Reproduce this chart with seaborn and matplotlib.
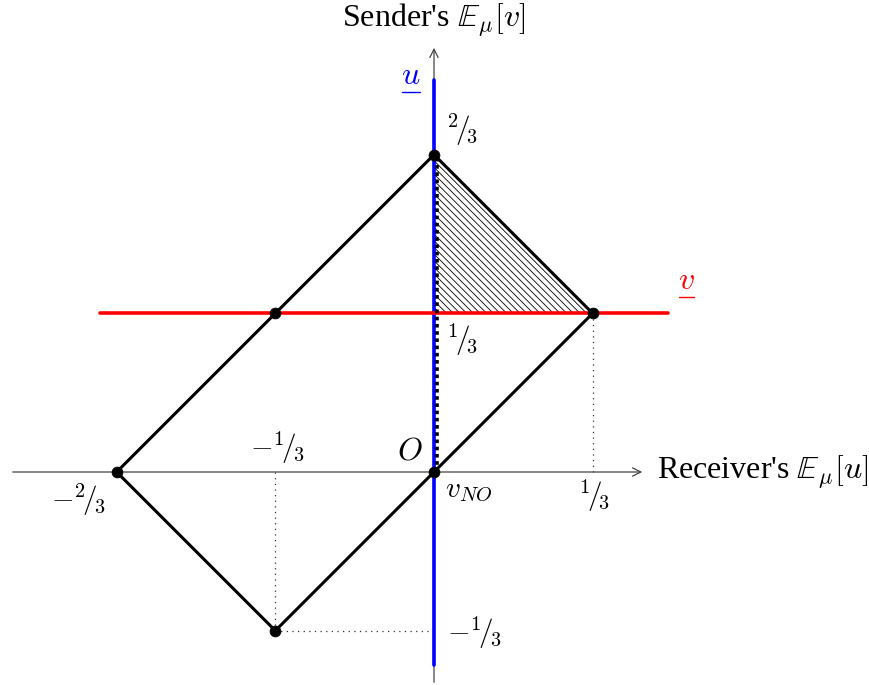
import numpy as np
import pandas as pd
import matplotlib
matplotlib.use("Agg")
import matplotlib.pyplot as plt
import matplotlib.transforms as mtransforms
import seaborn as sns

# ==========================================
# data (units: expected utilities)
# ==========================================
third = 1 / 3
poly_x = [0, third, 0, -third, -2 * third, 0]
poly_y = [2 * third, third, 0, -third, 0, 2 * third]

dot_x = [0, third, -third, 0, -2 * third, -third]
dot_y = [2 * third, third, third, 0, 0, -third]

tri_x = [0, third, 0]
tri_y = [2 * third, third, third]

u_bar = 0.0          # receiver threshold (vertical blue line)
v_bar = third        # sender threshold (horizontal red line)
u_span = [-0.405, 0.824]
v_span = [-0.702, 0.492]

guide_segments = [
    ([third, third], [0, third]),
    ([-third, -third], [0, -third]),
    ([-third, 0], [-third, -third]),
]

# ==========================================
sns.set_theme(style="white")
plt.rcParams['font.family'] = ['Liberation Serif', 'DejaVu Serif']
plt.rcParams['mathtext.fontset'] = 'cm'
plt.rcParams['hatch.linewidth'] = 0.6
plt.rcParams['text.color'] = 'black'

fig = plt.figure(figsize=(8.7, 6.85), dpi=100)
ax = fig.add_axes([0, 0, 1, 1])
ax.set_xlim(-434 / 476, (870 - 434) / 476)
ax.set_ylim(-(685 - 472) / 476, 472 / 476)
ax.axis('off')

axis_col = '#444444'
ax.annotate('', xy=(0.4433, 0), xytext=(-0.8908, 0),
            arrowprops=dict(arrowstyle='->,head_length=0.5,head_width=0.25', color=axis_col, lw=0.9))
ax.annotate('', xy=(0, 0.897), xytext=(0, -0.4475),
            arrowprops=dict(arrowstyle='->,head_length=0.5,head_width=0.25', color=axis_col, lw=0.9))

# hatched region
ax.fill(tri_x, tri_y, facecolor='none', edgecolor='black', hatch='\\' * 5, lw=0.6, zorder=2)

# polygon
poly = pd.DataFrame({'x': poly_x, 'y': poly_y})
sns.lineplot(data=poly, x='x', y='y', sort=False, estimator=None, color='black', lw=2.2, ax=ax, zorder=3)

# thresholds
sns.lineplot(x=[u_bar, u_bar], y=u_span, sort=False, estimator=None, color='#0000ff', lw=2.6, ax=ax, zorder=4)
sns.lineplot(x=v_span, y=[v_bar, v_bar], sort=False, estimator=None, color='#ff0000', lw=2.6, ax=ax, zorder=4)

# dotted guides
for gx, gy in guide_segments:
    ax.plot(gx, gy, color='#333333', lw=0.9, linestyle=(0, (1, 3.5)), zorder=2)
shift = mtransforms.offset_copy(ax.transData, fig=fig, x=3, y=0, units='dots')
ax.plot([0, 0], [0, 2 * third], color='black', lw=2.6, linestyle=(0, (1, 1)), transform=shift, zorder=5)

# vertices
sns.scatterplot(x=dot_x, y=dot_y, color='black', s=60, edgecolor='black', ax=ax, zorder=6)

# labels
big = 23
small = 21
ax.text(0, 0.950, r"Sender's $\mathbb{E}_\mu[v]$", fontsize=big, ha='center', va='center')
ax.text(0.468, 0, r"Receiver's $\mathbb{E}_\mu[u]$", fontsize=big, ha='left', va='center')
tu = ax.text(-0.048, 0.830, r"$u$", fontsize=big, color='#0000ff', ha='center', va='center')
tv = ax.text(0.530, 0.400, r"$v$", fontsize=big, color='#ff0000', ha='center', va='center')

frac = r"${}^{%s}\!/\!{}_{3}$"
ax.text(0.059, 0.718, frac % '2', fontsize=small, ha='center', va='center')
ax.text(0.059, 0.277, frac % '1', fontsize=small, ha='center', va='center')
ax.text(0.336, -0.050, frac % '1', fontsize=small, ha='center', va='center')
ax.text(-0.330, 0.050, r"$-$" + frac % '1', fontsize=small, ha='center', va='center')
ax.text(-0.748, -0.058, r"$-$" + frac % '2', fontsize=small, ha='center', va='center')
ax.text(0.084, -0.338, r"$-$" + frac % '1', fontsize=small, ha='center', va='center')
ax.text(-0.050, 0.043, r"$O$", fontsize=big, ha='center', va='center')
ax.text(0.074, -0.040, r"$v_{NO}$", fontsize=small, ha='center', va='center')

# underline the threshold labels
fig.canvas.draw()
inv = ax.transData.inverted()
for t, c in [(tu, '#0000ff'), (tv, '#ff0000')]:
    bb = t.get_window_extent()
    (x0, y0), (x1, _) = inv.transform([(bb.x0 + 1, bb.y0 - 1), (bb.x1 - 1, bb.y0)])
    ax.plot([x0, x1], [y0, y0], color=c, lw=1.0)

fig.savefig("out.png", dpi=100)
